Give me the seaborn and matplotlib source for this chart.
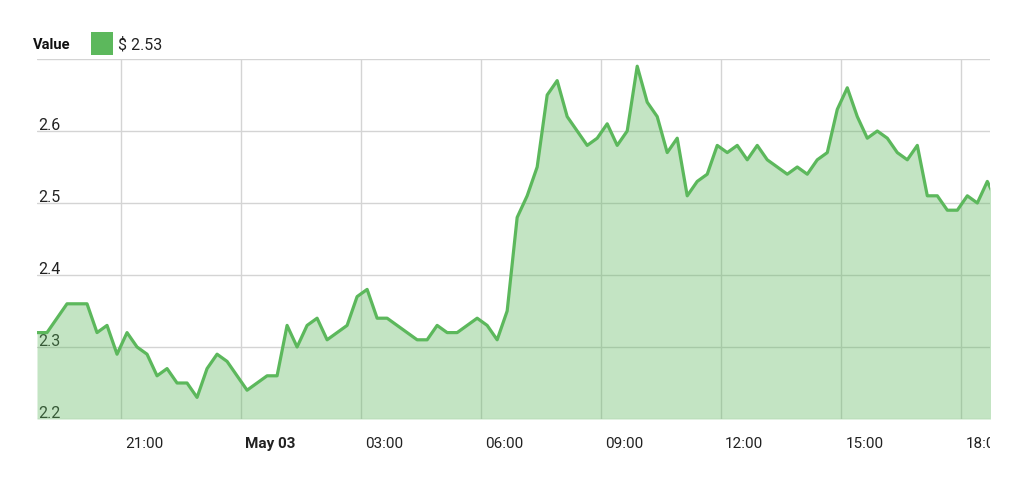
import matplotlib
matplotlib.use("Agg")
import matplotlib.pyplot as plt
import seaborn as sns
import pandas as pd
from matplotlib.transforms import ScaledTranslation, Bbox, TransformedBbox
from matplotlib.patches import Rectangle

# ---- data ----
start_time = "2017-05-02 18:54"
values = [
    2.32, 2.32, 2.34, 2.36, 2.36, 2.36, 2.32, 2.33, 2.29, 2.32,
    2.30, 2.29, 2.26, 2.27, 2.25, 2.25, 2.23, 2.27, 2.29, 2.28,
    2.26, 2.24, 2.25, 2.26, 2.26, 2.33, 2.30, 2.33, 2.34, 2.31,
    2.32, 2.33, 2.37, 2.38, 2.34, 2.34, 2.33, 2.32, 2.31, 2.31,
    2.33, 2.32, 2.32, 2.33, 2.34, 2.33, 2.31, 2.35, 2.48, 2.51,
    2.55, 2.65, 2.67, 2.62, 2.60, 2.58, 2.59, 2.61, 2.58, 2.60,
    2.69, 2.64, 2.62, 2.57, 2.59, 2.51, 2.53, 2.54, 2.58, 2.57,
    2.58, 2.56, 2.58, 2.56, 2.55, 2.54, 2.55, 2.54, 2.56, 2.57,
    2.63, 2.66, 2.62, 2.59, 2.60, 2.59, 2.57, 2.56, 2.58, 2.51,
    2.51, 2.49, 2.49, 2.51, 2.50, 2.53, 2.50,
]
times = pd.date_range(start_time, periods=len(values), freq="15min")

tick_times = pd.to_datetime([
    "2017-05-02 21:00", "2017-05-03 00:00", "2017-05-03 03:00",
    "2017-05-03 06:00", "2017-05-03 09:00", "2017-05-03 12:00",
    "2017-05-03 15:00", "2017-05-03 18:00",
])
tick_labels = ["21:00", "May 03", "03:00", "06:00", "09:00", "12:00", "15:00", "18:00"]
ytick_values = [2.2, 2.3, 2.4, 2.5, 2.6, 2.7]
ytick_labels = ["2.2", "2.3", "2.4", "2.5", "2.6", ""]
x_start = "2017-05-02 18:54"
x_end = "2017-05-03 18:43"
legend_name = "Value"
legend_value = "$ 2.53"

GREEN = "#5cb85c"

sns.set_theme(style="white")
plt.rcParams["font.family"] = ["Roboto", "DejaVu Sans"]

fig = plt.figure(figsize=(10.24, 4.81), dpi=100)
ax = fig.add_axes([37 / 1024, 1 - 420 / 481, 953 / 1024, 360 / 481])

df = pd.DataFrame({"time": times, "value": values})
sns.lineplot(data=df, x="time", y="value", ax=ax, color=GREEN, lw=2.3, zorder=3)
ax.fill_between(df["time"], df["value"], 2.2, color=GREEN, alpha=0.37, lw=0, zorder=2)

ax.set_xlim(pd.Timestamp(x_start), pd.Timestamp(x_end))
ax.set_ylim(2.2, 2.7)
ax.set_xlabel("")
ax.set_ylabel("")

ax.grid(True, color="#d4d4d4", lw=1)
ax.set_axisbelow(True)
for s in ax.spines.values():
    s.set_visible(False)

# x ticks
ax.set_xticks(tick_times)
ax.set_xticklabels(tick_labels)
ax.tick_params(axis="x", length=0, pad=12, labelsize=11, labelcolor="#222222")
xoff = ScaledTranslation(4 / 100, 0, fig.dpi_scale_trans)
clip = TransformedBbox(Bbox([[0, 0], [990 / 1024, 1]]), fig.transFigure)
for lbl in ax.get_xticklabels():
    lbl.set_ha("left")
    lbl.set_transform(lbl.get_transform() + xoff)
    lbl.set_clip_on(True)
    lbl.set_clip_box(clip)
ax.get_xticklabels()[1].set_fontweight("bold")

# y ticks inside plot
ax.set_yticks(ytick_values)
ax.set_yticklabels(ytick_labels)
ax.tick_params(axis="y", length=0, pad=-1, labelsize=11.5, labelcolor="#222222")
yoff = ScaledTranslation(0, 2 / 100, fig.dpi_scale_trans)
for lbl in ax.get_yticklabels():
    lbl.set_ha("left")
    lbl.set_va("baseline")
    lbl.set_transform(lbl.get_transform() + yoff)

# legend
fig.text(33 / 1024, 1 - 45 / 481, legend_name, fontsize=10.5, fontweight="bold",
         va="center", ha="left", color="#111111")
fig.patches.append(Rectangle((91 / 1024, 1 - 56 / 481), 22 / 1024, 23 / 481,
                             transform=fig.transFigure, facecolor=GREEN,
                             edgecolor="none"))
fig.text(118 / 1024, 1 - 45 / 481, legend_value, fontsize=11.5,
         va="center", ha="left", color="#222222")

fig.savefig("out.png", dpi=100)
